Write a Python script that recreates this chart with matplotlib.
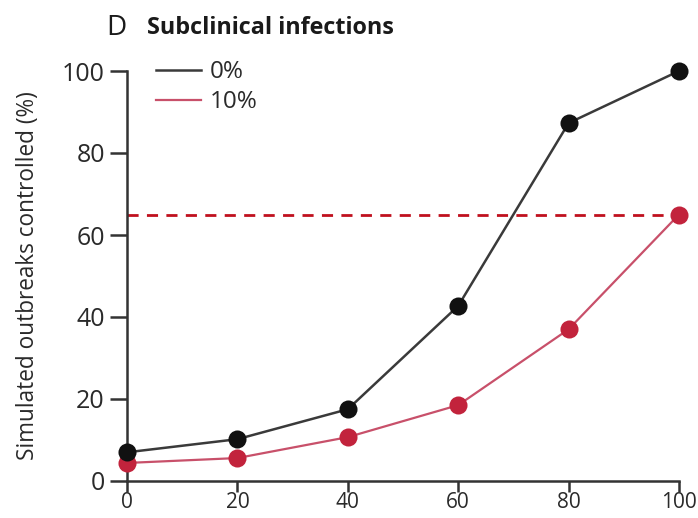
import matplotlib
matplotlib.use("Agg")
import matplotlib.pyplot as plt

# Proportion of cases isolated / traced (%) and outbreaks controlled (%)
x_values = [0, 20, 40, 60, 80, 100]
controlled_0pct = [7.0, 10.2, 17.5, 42.7, 87.3, 100.0]
controlled_10pct = [4.4, 5.6, 10.7, 18.5, 37.0, 65.0]
series_labels = ["0%", "10%"]
threshold = 65
x_ticks = [0, 20, 40, 60, 80, 100]
y_ticks = [0, 20, 40, 60, 80, 100]

plt.rcParams["font.family"] = ["Open Sans", "DejaVu Sans"]

fig = plt.figure(figsize=(6.98, 5.18), dpi=100)
ax = fig.add_axes([127 / 698, 1 - 481 / 518, (679 - 127) / 698, (481 - 71) / 518])

axis_col = "#333333"
text_col = "#2a2a2a"
black_line = "#3a3a3a"
black_mark = "#111111"
red_line = "#c8506a"
red_mark = "#c2233c"
dash_col = "#c0101e"

ax.axhline(threshold, xmin=0, xmax=1, color=dash_col, lw=2.0,
           ls=(0, (4, 3)), zorder=1)

ax.plot(x_values, controlled_0pct, color=black_line, lw=1.8, zorder=2,
        label=series_labels[0], clip_on=False)
ax.plot(x_values, controlled_0pct, "o", color=black_mark, ms=13, mew=0,
        zorder=4, clip_on=False)
ax.plot(x_values, controlled_10pct, color=red_line, lw=1.6, zorder=2,
        label=series_labels[1], clip_on=False)
ax.plot(x_values, controlled_10pct, "o", color=red_mark, ms=13, mew=0,
        zorder=3, clip_on=False)

ax.set_xlim(0, 100)
ax.set_ylim(0, 100)
ax.set_xticks(x_ticks)
ax.set_yticks(y_ticks)
ax.tick_params(axis="both", direction="out", width=1.8, color=axis_col,
               labelcolor=text_col)
ax.tick_params(axis="y", length=12, pad=4, labelsize=18)
ax.tick_params(axis="x", length=8, pad=0, labelsize=15)

for side in ("top", "right"):
    ax.spines[side].set_visible(False)
for side in ("left", "bottom"):
    ax.spines[side].set_color(axis_col)
    ax.spines[side].set_linewidth(1.8)

ax.set_ylabel("Simulated outbreaks controlled (%)", fontsize=16.3,
              color=text_col, labelpad=16)

leg = ax.legend(loc="upper left", bbox_to_anchor=(0.035, 1.05), frameon=False,
                fontsize=17.5, handlelength=1.85, handletextpad=0.35,
                labelspacing=0.25, borderaxespad=0)
for t in leg.get_texts():
    t.set_color(text_col)

fig.text(106 / 698, 1 - 28 / 518, "D", fontsize=20, color="#1a1a1a",
         va="center", ha="left")
fig.text(147 / 698, 1 - 28 / 518, "Subclinical infections", fontsize=16.8,
         fontweight="bold", color="#1a1a1a", va="center", ha="left")

fig.savefig("out.png", dpi=100)
